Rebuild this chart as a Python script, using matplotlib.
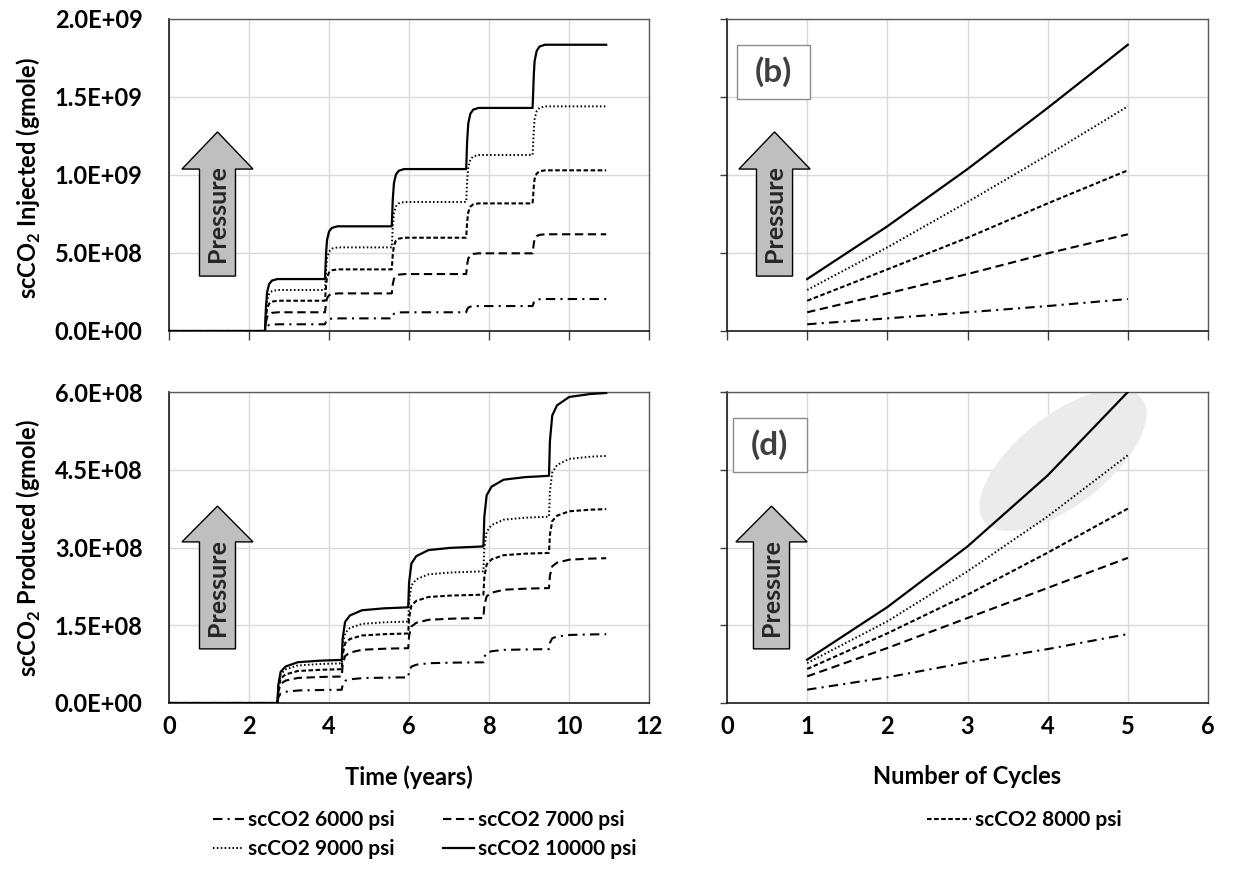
import numpy as np
import matplotlib
matplotlib.use("Agg")
import matplotlib.pyplot as plt
from matplotlib.patches import Polygon, Ellipse, Rectangle
from matplotlib.lines import Line2D
from matplotlib.ticker import FuncFormatter, FixedLocator

plt.rcParams['font.family'] = ['Lato', 'DejaVu Sans']
plt.rcParams['font.weight'] = 'bold'
plt.rcParams['mathtext.fontset'] = 'custom'
plt.rcParams['mathtext.rm'] = 'Lato:bold'
plt.rcParams['mathtext.bf'] = 'Lato:bold'

# ---------------- data ----------------
pressures = ["scCO2 6000 psi", "scCO2 7000 psi", "scCO2 8000 psi",
             "scCO2 9000 psi", "scCO2 10000 psi"]
cycles = [1, 2, 3, 4, 5]

# cumulative scCO2 injected at the end of each cycle (gmole)
inj_6000 = [0.043e9, 0.081e9, 0.120e9, 0.160e9, 0.205e9]
inj_7000 = [0.120e9, 0.241e9, 0.365e9, 0.498e9, 0.620e9]
inj_8000 = [0.194e9, 0.395e9, 0.598e9, 0.818e9, 1.030e9]
inj_9000 = [0.263e9, 0.536e9, 0.827e9, 1.128e9, 1.440e9]
inj_10000 = [0.333e9, 0.671e9, 1.038e9, 1.430e9, 1.835e9]

# cumulative scCO2 produced at the end of each cycle (gmole)
prod_6000 = [0.257e8, 0.495e8, 0.785e8, 1.040e8, 1.330e8]
prod_7000 = [0.514e8, 1.060e8, 1.640e8, 2.220e8, 2.800e8]
prod_8000 = [0.656e8, 1.344e8, 2.090e8, 2.900e8, 3.750e8]
prod_9000 = [0.770e8, 1.575e8, 2.540e8, 3.600e8, 4.780e8]
prod_10000 = [0.836e8, 1.850e8, 3.020e8, 4.390e8, 6.000e8]

# start of the injection / production period of each cycle (years)
inj_start = [2.40, 3.90, 5.57, 7.43, 9.09]
prod_start = [2.71, 4.32, 5.98, 7.86, 9.50]
t_end = 10.93

# build-up profile of one cycle: elapsed time (years) vs fraction of the cycle volume
inj_rise_dt = [0.0, 0.02, 0.05, 0.10, 0.17, 0.30]
inj_rise_frac = [0.0, 0.42, 0.74, 0.90, 0.97, 1.0]
prod_rise_dt = [0.0, 0.02, 0.08, 0.20, 0.50, 1.00, 1.80]
prod_rise_frac = [0.0, 0.40, 0.72, 0.84, 0.94, 0.975, 1.0]

inj_series = [inj_6000, inj_7000, inj_8000, inj_9000, inj_10000]
prod_series = [prod_6000, prod_7000, prod_8000, prod_9000, prod_10000]

# ---------------- styles ----------------
styles = [
    dict(color='black', lw=1.5, dashes=(4.5, 2.5, 1, 2.5)),   # 6000
    dict(color='black', lw=1.5, dashes=(4, 2.2)),             # 7000
    dict(color='black', lw=1.5, dashes=(2.2, 1.2)),           # 8000
    dict(color='black', lw=1.4, dashes=(0.8, 1.2)),           # 9000
    dict(color='black', lw=1.6, linestyle='-'),               # 10000
]


def cumulative_curve(t, starts, values, rise_dt, rise_frac):
    totals = np.concatenate([[0.0], values])
    deltas = np.diff(totals)
    y = np.zeros_like(t)
    for s, d in zip(starts, deltas):
        y += d * np.interp(t - s, rise_dt, rise_frac, left=0.0, right=1.0)
    return y


W, H = 1238, 869
fig = plt.figure(figsize=(W / 100, H / 100), dpi=100)


def add_axes_px(left, top, right, bottom):
    return fig.add_axes([left / W, 1 - bottom / H, (right - left) / W, (bottom - top) / H])


ax_a = add_axes_px(169, 19, 649, 331)
ax_b = add_axes_px(727, 19, 1208, 331)
ax_c = add_axes_px(169, 392, 649, 703)
ax_d = add_axes_px(727, 392, 1208, 703)

GRID = '#d9d9d9'
TICKFS = 17
LABELFS = 17


def style_axes(ax, xmax, xstep, ymax, ystep, left_labels, bottom_labels):
    ax.set_xlim(0, xmax)
    ax.set_ylim(0, ymax)
    ax.xaxis.set_major_locator(FixedLocator(np.arange(0, xmax + 1e-9, xstep)))
    ax.yaxis.set_major_locator(FixedLocator(np.arange(0, ymax * 1.0001, ystep)))
    ax.grid(True, color=GRID, lw=1.0, zorder=0)
    ax.set_axisbelow(True)
    for side in ['top', 'right']:
        ax.spines[side].set_color('#595959')
        ax.spines[side].set_linewidth(1.0)
    for side in ['left', 'bottom']:
        ax.spines[side].set_color('#1a1a1a')
        ax.spines[side].set_linewidth(1.2)
    ax.yaxis.set_major_formatter(FuncFormatter(lambda v, p: f"{v:.1E}"))
    ax.xaxis.set_major_formatter(FuncFormatter(lambda v, p: f"{v:g}"))
    if bottom_labels:
        ax.tick_params(axis='x', length=0, pad=9, labelsize=TICKFS)
    else:
        ax.tick_params(axis='x', direction='out', length=6.5, width=1.0,
                       color='#404040', labelbottom=False)
    if left_labels:
        ax.tick_params(axis='y', length=0, pad=19, labelsize=TICKFS)
    else:
        ax.tick_params(axis='y', direction='out', length=5, width=1.0,
                       color='#404040', labelleft=False)


style_axes(ax_a, 12, 2, 2.0e9, 0.5e9, True, False)
style_axes(ax_b, 6, 1, 2.0e9, 0.5e9, False, False)
style_axes(ax_c, 12, 2, 6.0e8, 1.5e8, True, True)
style_axes(ax_d, 6, 1, 6.0e8, 1.5e8, False, True)

t = np.linspace(0, t_end, 3000)
for vals, st in zip(inj_series, styles):
    ax_a.plot(t, cumulative_curve(t, inj_start, vals, inj_rise_dt, inj_rise_frac),
              zorder=3, **st)
    ax_b.plot(cycles, vals, zorder=3, **st)
for vals, st in zip(prod_series, styles):
    ax_c.plot(t, cumulative_curve(t, prod_start, vals, prod_rise_dt, prod_rise_frac),
              zorder=3, **st)
    ax_d.plot(cycles, vals, zorder=3, **st)

# highlight of the two highest-pressure production curves
hl = Ellipse((10.63, 4.09), 2.0, 0.9, angle=38, transform=fig.dpi_scale_trans,
             facecolor='#ebebeb', edgecolor='none', zorder=1)
ax_d.add_patch(hl)
hl.set_clip_path(ax_d.patch)

# axis titles
ax_a.set_ylabel("scCO$_{2}$ Injected (gmole)", fontsize=LABELFS, fontweight='bold')
ax_c.set_ylabel("scCO$_{2}$ Produced (gmole)", fontsize=LABELFS, fontweight='bold')
ax_a.yaxis.set_label_coords(-0.262, 0.49)
ax_c.yaxis.set_label_coords(-0.262, 0.50)
ax_c.set_xlabel("Time (years)", fontsize=LABELFS, fontweight='bold')
ax_d.set_xlabel("Number of Cycles", fontsize=LABELFS, fontweight='bold')
ax_c.xaxis.set_label_coords(0.5, -0.2)
ax_d.xaxis.set_label_coords(0.5, -0.2)


def pressure_arrow(ax, cx, y_top, y_base, y_bottom, head_hw, shaft_hw, text_y):
    pts = [(cx - shaft_hw, y_bottom), (cx - shaft_hw, y_base), (cx - head_hw, y_base),
           (cx, y_top), (cx + head_hw, y_base), (cx + shaft_hw, y_base),
           (cx + shaft_hw, y_bottom)]
    ax.add_patch(Polygon(pts, closed=True, transform=ax.transAxes, facecolor='#bfbfbf',
                         edgecolor='black', lw=1.0, zorder=4))
    ax.text(cx, text_y, "Pressure", transform=ax.transAxes, rotation=90,
            ha='center', va='center', fontsize=18, fontweight='bold',
            color='#262626', zorder=5)


pressure_arrow(ax_a, 0.101, 0.638, 0.519, 0.176, 0.074, 0.0375, 0.378)
pressure_arrow(ax_b, 0.0988, 0.638, 0.519, 0.176, 0.074, 0.0375, 0.378)
pressure_arrow(ax_c, 0.101, 0.633, 0.518, 0.174, 0.074, 0.0375, 0.372)
pressure_arrow(ax_d, 0.0925, 0.633, 0.518, 0.174, 0.074, 0.0375, 0.372)


def panel_tag(ax, x0, y0, x1, y1, text):
    ax.add_patch(Rectangle((x0, y0), x1 - x0, y1 - y0, transform=ax.transAxes,
                           facecolor='white', edgecolor='#8c8c8c', lw=1.0, zorder=4))
    ax.text((x0 + x1) / 2, (y0 + y1) / 2, text, transform=ax.transAxes, ha='center',
            va='center', fontsize=24, fontweight='bold', color='#404040', zorder=5)


panel_tag(ax_b, 0.021, 0.744, 0.1726, 0.917, "(b)")
panel_tag(ax_d, 0.0125, 0.743, 0.166, 0.916, "(d)")

# legend laid out in three columns
handles = [Line2D([], [], **st) for st in styles]
columns = [([0, 3], 213), ([1, 4], 443), ([2], 927)]
for idx, xpx in columns:
    fig.legend([handles[i] for i in idx], [pressures[i] for i in idx],
               loc='upper left', bbox_to_anchor=(xpx / W, 1 - 810 / H),
               frameon=False, handlelength=1.5 if xpx != 927 else 2.1,
               handletextpad=0.2, borderpad=0, borderaxespad=0, labelspacing=0.45,
               prop=dict(weight='bold', size=15))

fig.savefig("out.png", dpi=100)
